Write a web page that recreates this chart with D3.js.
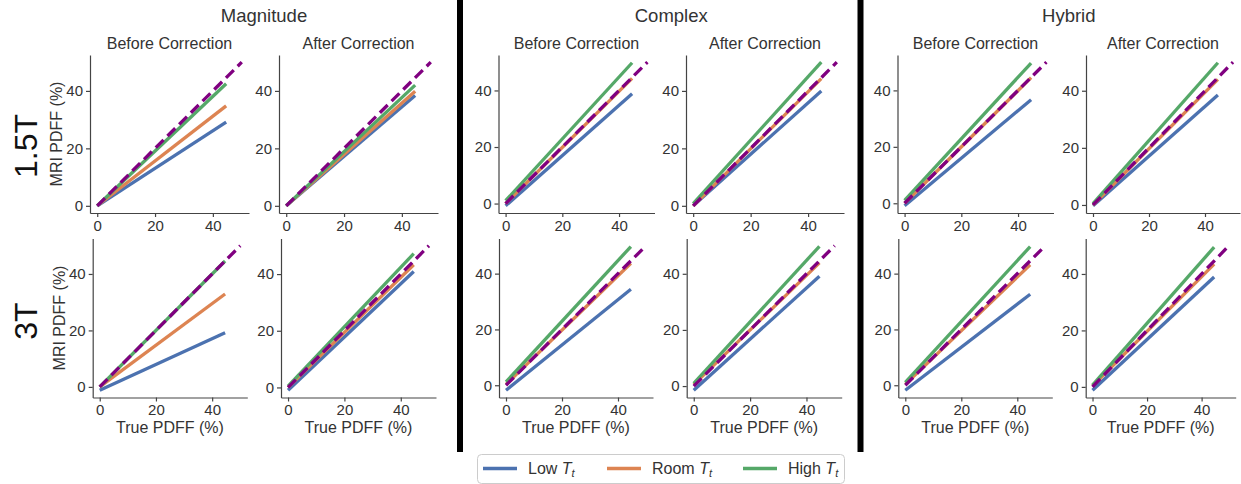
<!DOCTYPE html>
<html>
<head>
  <meta charset="utf-8">
  <title>MRI PDFF vs True PDFF</title>
  <script src="https://d3js.org/d3.v7.min.js"></script>
  <style>
    body { margin: 0; background: #fff; }
    text { font-family: "Liberation Sans", Arial, sans-serif; }
  </style>
</head>
<body>
<script>
  "use strict";

  // ---- data ----
  var methods = ["Magnitude", "Complex", "Hybrid"];
  var stages = ["Before Correction", "After Correction"];
  var fields = ["1.5T", "3T"];
  var seriesNames = ["Low", "Room", "High"];
  var seriesColors = ["#4C72B0", "#DD8452", "#55A868"];
  var tickValues = [0, 20, 40];
  var fitRange = [0, 44.6];       // true PDFF span of fitted lines
  var identityRange = [0, 50];    // dashed y = x line

  // MRI PDFF at true PDFF = 0 and 44.6
  // panel order: Mag-Before, Mag-After, Cx-Before, Cx-After, Hy-Before, Hy-After
  var low_15T  = [[0, 29.1], [0, 38.4], [-0.8, 38.8], [0, 40.0], [-0.9, 36.7], [-0.3, 38.5]];
  var room_15T = [[0, 34.8], [0, 39.9], [0, 44.3], [0, 44.3], [0, 44.5], [0, 44.0]];
  var high_15T = [[0, 42.5], [0, 42.0], [1.0, 49.8], [0.8, 50.0], [1.0, 49.7], [0.5, 49.8]];
  var low_3T   = [[-1.2, 19.2], [-1.0, 40.9], [-1.8, 34.4], [-1.5, 39.1], [-1.8, 32.6], [-1.2, 38.9]];
  var room_3T  = [[0, 32.9], [0, 43.3], [0.3, 43.7], [0.5, 43.9], [0.3, 43.2], [0.3, 43.5]];
  var high_3T  = [[0, 44.6], [0.5, 47.2], [1.2, 49.7], [1.0, 49.8], [1.0, 49.7], [0.6, 49.5]];

  var fits = { "1.5T": [low_15T, room_15T, high_15T], "3T": [low_3T, room_3T, high_3T] };

  // ---- layout ----
  var W = 1241, H = 484;
  var rowBox = [{ top: 55, h: 158, labelY: 146 }, { top: 238.5, h: 159, labelY: 321 }];
  var colBox = [
    [{ l: 90, w: 159 }, { l: 279, w: 159 }, { l: 498.5, w: 156 }, { l: 686, w: 158 }, { l: 897.5, w: 156 }, { l: 1086, w: 154 }],
    [{ l: 92.7, w: 154.6 }, { l: 281, w: 155 }, { l: 499, w: 154 }, { l: 686.7, w: 155 }, { l: 898.3, w: 154 }, { l: 1085.7, w: 150 }]
  ];
  var textColor = "#333";

  var svg = d3.select("body").append("svg")
      .attr("width", W)
      .attr("height", H);

  fields.forEach(function (field, r) {
    var rb = rowBox[r];
    for (var c = 0; c < 6; c++) {
      var cb = colBox[r][c];
      var lines = fits[field].map(function (s) { return s[c]; });
      var all = d3.merge(lines).concat(identityRange);
      var ext = d3.extent(all);
      var pad = (ext[1] - ext[0]) * 0.05;

      var x = d3.scaleLinear().domain([-2.5, 52.5]).range([0, cb.w]);
      var y = d3.scaleLinear().domain([ext[0] - pad, ext[1] + pad]).range([rb.h, 0]);

      var g = svg.append("g").attr("transform", "translate(" + cb.l + "," + rb.top + ")");

      var xAxis = g.append("g")
          .attr("transform", "translate(0," + rb.h + ")")
          .call(d3.axisBottom(x).tickValues(tickValues).tickSize(4).tickSizeOuter(0).tickPadding(3));
      var yAxis = g.append("g")
          .call(d3.axisLeft(y).tickValues(tickValues).tickSize(4).tickSizeOuter(0).tickPadding(3));

      [xAxis, yAxis].forEach(function (a) {
        a.selectAll("path, line").attr("stroke", "#444").attr("stroke-width", 1.2);
        a.selectAll("text").attr("fill", textColor).style("font-size", "15px")
          .style("font-family", "'Liberation Sans', Arial, sans-serif");
      });

      var line = d3.line().x(function (d) { return x(d[0]); }).y(function (d) { return y(d[1]); });

      lines.forEach(function (s, i) {
        g.append("path")
          .datum([[fitRange[0], s[0]], [fitRange[1], s[1]]])
          .attr("d", line)
          .attr("fill", "none")
          .attr("stroke", seriesColors[i])
          .attr("stroke-width", 3.3);
      });

      g.append("path")
        .datum([[identityRange[0], identityRange[0]], [identityRange[1], identityRange[1]]])
        .attr("d", line)
        .attr("fill", "none")
        .attr("stroke", "#800080")
        .attr("stroke-width", 3.3)
        .attr("stroke-dasharray", "11,5.5");

      if (r === 0) {
        g.append("text")
          .attr("x", cb.w / 2).attr("y", -6)
          .attr("text-anchor", "middle")
          .attr("fill", textColor)
          .style("font-size", "16px")
          .text(stages[c % 2]);
      }
      if (r === 1) {
        g.append("text")
          .attr("x", cb.w / 2).attr("y", rb.h + 35)
          .attr("text-anchor", "middle")
          .attr("fill", textColor)
          .style("font-size", "16px")
          .text("True PDFF (%)");
      }
      if (c === 0) {
        g.append("text")
          .attr("transform", "translate(" + (-28) + "," + (rb.h / 2) + ") rotate(-90)")
          .attr("text-anchor", "middle")
          .attr("fill", textColor)
          .style("font-size", "16px")
          .text("MRI PDFF (%)");
        svg.append("text")
          .attr("transform", "translate(" + 37 + "," + rb.labelY + ") rotate(-90)")
          .attr("text-anchor", "middle")
          .attr("fill", "#111")
          .style("font-size", "32px")
          .text(field);
      }
    }
  });

  // method group titles
  methods.forEach(function (m, k) {
    var a = colBox[0][k * 2], b = colBox[0][k * 2 + 1];
    svg.append("text")
      .attr("x", (a.l + b.l + b.w) / 2)
      .attr("y", 22)
      .attr("text-anchor", "middle")
      .attr("fill", textColor)
      .style("font-size", "18.5px")
      .text(m);
  });

  // black separators
  [457, 857.5].forEach(function (sx) {
    svg.append("rect").attr("x", sx).attr("y", 0).attr("width", 6).attr("height", 452).attr("fill", "#000");
  });

  // legend
  var lg = svg.append("g");
  lg.append("rect")
    .attr("x", 477.5).attr("y", 454.5).attr("width", 367).attr("height", 29)
    .attr("rx", 4).attr("fill", "#fff").attr("stroke", "#ccc");
  var legendX = [483, 607, 743];
  seriesNames.forEach(function (name, i) {
    var lx = legendX[i];
    lg.append("line")
      .attr("x1", lx).attr("x2", lx + 34).attr("y1", 468.5).attr("y2", 468.5)
      .attr("stroke", seriesColors[i]).attr("stroke-width", 3.3);
    var t = lg.append("text")
      .attr("x", lx + 45).attr("y", 474)
      .attr("fill", textColor)
      .style("font-size", "16px");
    t.append("tspan").text(name + " ");
    t.append("tspan").style("font-style", "italic").text("T");
    t.append("tspan").style("font-style", "italic").style("font-size", "11px")
      .attr("dy", 3).text("t");
  });
</script>
</body>
</html>
